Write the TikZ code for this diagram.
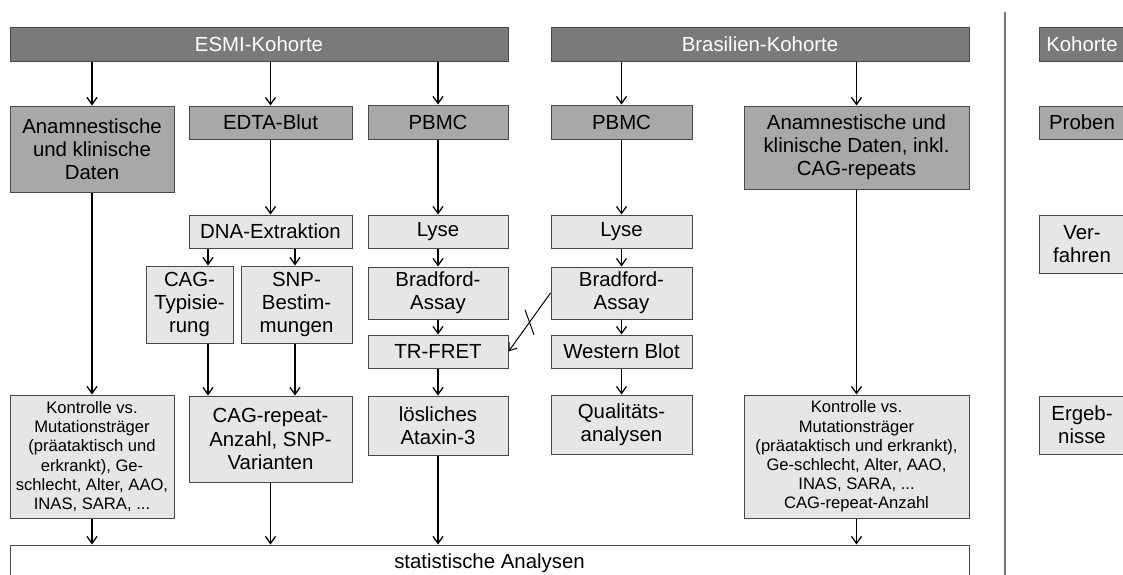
\documentclass[tikz,border=0pt]{standalone}
\usepackage{fontspec}
\setmainfont{Liberation Sans}
\usepackage{tikz}
\usetikzlibrary{arrows.meta, positioning, calc}
\definecolor{barGray}{RGB}{124,121,121}
\definecolor{midGray}{RGB}{168,168,168}
\definecolor{lightGray}{RGB}{230,230,230}
\definecolor{edgeGray}{RGB}{72,72,72}
\definecolor{sepGray}{RGB}{120,120,120}
\newcommand{\bigtxt}{\fontsize{10.2pt}{11.6pt}\selectfont}
\newcommand{\smalltxt}{\fontsize{8.3pt}{9.6pt}\selectfont}
\tikzstyle{cohort} = [rectangle, draw=edgeGray, line width=0.5pt, fill=barGray, text=white, font=\bigtxt, minimum height=17pt, inner sep=1pt]
\tikzstyle{source} = [rectangle, draw=edgeGray, line width=0.5pt, fill=midGray, font=\bigtxt, align=center, inner sep=1pt]
\tikzstyle{proc} = [rectangle, draw=edgeGray, line width=0.5pt, fill=lightGray, font=\bigtxt, align=center, inner sep=1pt]
\tikzstyle{result} = [proc, font=\smalltxt]
\tikzstyle{total} = [rectangle, draw=edgeGray, line width=0.5pt, fill=white, font=\bigtxt, inner sep=1pt]
\tikzstyle{arrow} = [line width=0.65pt, ->, >={Straight Barb[length=3.5pt, width=5pt]}]
\tikzstyle{link} = [line width=0.5pt, -]
\tikzstyle{divider} = [line width=0.75pt, draw=sepGray]
\begin{document}
\begin{tikzpicture}[x=0.5pt, y=-0.5pt]
    \path[use as bounding box, clip] (0,0) rectangle (1123,574);
    \node (esmi) [cohort, minimum width=249pt] at (259,44) {ESMI-Kohorte};
    \node (bras) [cohort, minimum width=209pt] at (760,44) {Brasilien-Kohorte};
    \node (kohL) [cohort, minimum width=43pt] at (1082,44) {Kohorte};
    \node (anaE) [source, minimum width=82pt, minimum height=43pt] at (92,149) {Anamnestische\\und klinische\\Daten};
    \node (edta) [source, minimum width=81.5pt, minimum height=16.5pt] at (270.5,122.5) {EDTA-Blut};
    \node (pbmcE) [source, minimum width=70pt, minimum height=17pt] at (438,122) {PBMC};
    \node (pbmcB) [source, minimum width=70.5pt, minimum height=17pt] at (621.5,122) {PBMC};
    \node (anaB) [source, minimum width=112.5pt, minimum height=41.5pt] at (856.5,147.5) {Anamnestische und\\klinische Daten, inkl.\\CAG-repeats};
    \node (probL) [source, minimum width=43pt, minimum height=16.5pt] at (1082,122.5) {Proben};
    \node (dna) [proc, minimum width=81.5pt, minimum height=16.5pt] at (270.5,231.5) {DNA-Extraktion};
    \node (lyseE) [proc, minimum width=70pt, minimum height=16.5pt] at (438,231.5) {Lyse};
    \node (lyseB) [proc, minimum width=70.5pt, minimum height=16.5pt] at (621.5,231.5) {Lyse};
    \node (verL) [proc, minimum width=43pt, minimum height=29pt] at (1082,244) {Ver-\\fahren};
    \node (cagT) [proc, minimum width=43.5pt, minimum height=38.5pt] at (189.5,304.5) {CAG-\\Typisie-\\rung};
    \node (snp) [proc, minimum width=55.5pt, minimum height=38.5pt] at (296.5,304.5) {SNP-\\Bestim-\\mungen};
    \node (bradE) [proc, minimum width=70pt, minimum height=26pt] at (438,293) {Bradford-\\Assay};
    \node (bradB) [proc, minimum width=70.5pt, minimum height=26pt] at (621.5,293) {Bradford-\\Assay};
    \node (tr) [proc, minimum width=70pt, minimum height=16.5pt] at (438,351.5) {TR-FRET};
    \node (west) [proc, minimum width=70.5pt, minimum height=16.5pt] at (621.5,351.5) {Western Blot};
    \node (kontE) [result, minimum width=82pt, minimum height=61.5pt] at (92,456.5) {Kontrolle vs.\\Mutationsträger\\(präataktisch und\\erkrankt), Ge-\\schlecht, Alter, AAO,\\INAS, SARA, ...};
    \node (cagR) [proc, minimum width=81.5pt, minimum height=43pt] at (270.5,439) {CAG-repeat-\\Anzahl, SNP-\\Varianten};
    \node (loes) [proc, minimum width=70pt, minimum height=29.5pt] at (438,425.5) {lösliches\\Ataxin-3};
    \node (qual) [proc, minimum width=70.5pt, minimum height=29.5pt] at (621.5,424.5) {Qualitäts-\\analysen};
    \node (kontB) [result, minimum width=112.5pt, minimum height=61.5pt] at (856.5,456.5) {Kontrolle vs.\\Mutationsträger\\(präataktisch und erkrankt),\\Ge-schlecht, Alter, AAO,\\INAS, SARA, ...\\CAG-repeat-Anzahl};
    \node (ergL) [proc, minimum width=43pt, minimum height=29pt] at (1082,425) {Ergeb-\\nisse};
    \node (stat) [total, minimum width=479.5pt, minimum height=18pt] at (489.5,563) {statistische Analysen};
    \coordinate (cagX) at (208,0);
    \coordinate (snpX) at (295,0);
    \draw [divider] (1005,12) -- (1005,580);
    \draw [arrow] (esmi.south -| anaE.north) -- (anaE.north);
    \draw [arrow] (esmi.south -| edta.north) -- (edta.north);
    \draw [arrow] (esmi.south -| pbmcE.north) -- (pbmcE.north);
    \draw [arrow] (bras.south -| pbmcB.north) -- (pbmcB.north);
    \draw [arrow] (bras.south -| anaB.north) -- (anaB.north);
    \draw [arrow] (anaE) -- (kontE);
    \draw [arrow] (edta) -- (dna);
    \draw [arrow] (dna.south -| cagX) -- (cagT.north -| cagX);
    \draw [arrow] (dna.south -| snpX) -- (snp.north -| snpX);
    \draw [arrow] (cagT.south -| cagX) -- (cagR.north -| cagX);
    \draw [arrow] (snp.south -| snpX) -- (cagR.north -| snpX);
    \draw [arrow] (pbmcE) -- (lyseE);
    \draw [arrow] (lyseE) -- (bradE);
    \draw [arrow] (bradE) -- (tr);
    \draw [arrow] (tr) -- (loes);
    \draw [arrow] (pbmcB) -- (lyseB);
    \draw [arrow] (lyseB) -- (bradB);
    \draw [arrow] (bradB) -- (west);
    \draw [arrow] (west) -- (qual);
    \draw [arrow] (anaB) -- (kontB);
    \draw [arrow, line width=0.5pt] (bradB.west) -- (tr.east);
    \draw [link] ($(bradB.west)!0.5!(tr.east)+(-4.5,-12.5)$) -- ++(9,25);
    \draw [arrow] (kontE.south) -- (kontE.south |- stat.north);
    \draw [arrow] (cagR.south) -- (cagR.south |- stat.north);
    \draw [arrow] (loes.south) -- (loes.south |- stat.north);
    \draw [arrow] (kontB.south) -- (kontB.south |- stat.north);
\end{tikzpicture}
\end{document}
